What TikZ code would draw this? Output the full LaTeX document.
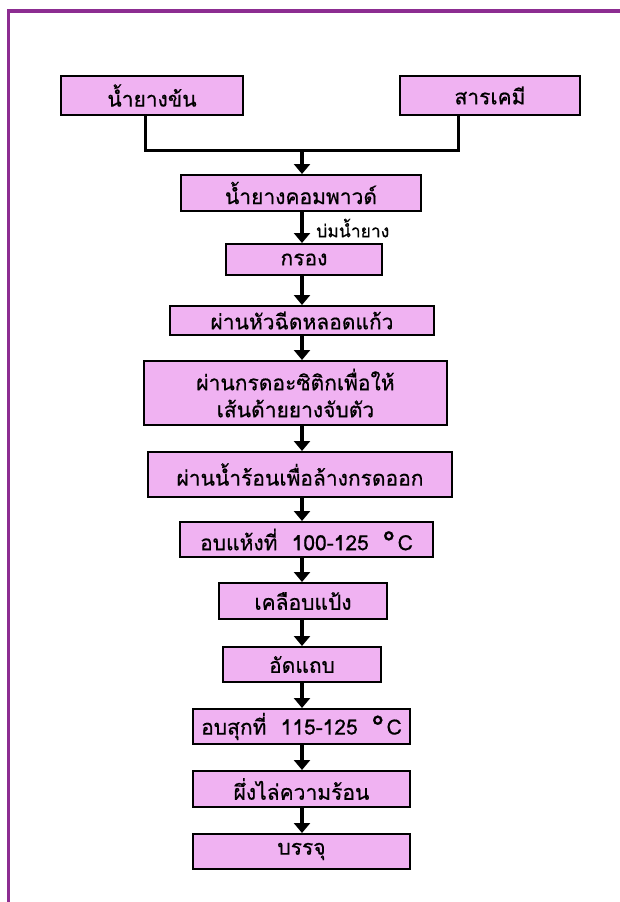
\documentclass[tikz,border=0pt]{standalone}
\usepackage{fontspec}
\newfontfamily\thaifont[Script=Thai,FakeBold=0.6]{Loma}
\usetikzlibrary{arrows.meta}
\definecolor{boxpink}{RGB}{240,178,242}
\definecolor{framepurple}{RGB}{140,45,145}
\newcommand{\degC}{\raisebox{0.5pt}{\fontsize{25}{25}\selectfont °}\hspace{3pt}C}
\tikzset{
  box/.style={draw=black, line width=2pt, fill=boxpink, inner sep=0pt, align=center,
    font=\thaifont\fontsize{21}{27}\selectfont},
  conn/.style={line width=3pt, line cap=rect},
  arr/.style={line width=4pt, -{Triangle[width=16pt,length=10pt]}},
  lbl/.style={inner sep=0pt, font=\thaifont\fontsize{17.5}{20}\selectfont}
}
\begin{document}
\begin{tikzpicture}[x=1pt,y=-1pt]
\useasboundingbox (0,0) rectangle (620,902);
\fill[white] (0,0) rectangle (620,902);
\draw[framepurple, line width=3.5pt] (8.5,902) -- (8.5,11) -- (620,11);

\node[box, minimum width=182pt, minimum height=39pt] (n1) at (152,95.5) {น้ำยางข้น};
\node[box, minimum width=180pt, minimum height=39pt] (n2) at (490,95.5) {สารเคมี};
\node[box, minimum width=240pt, minimum height=36pt] (n3) at (301,193) {น้ำยางคอมพาวด์};
\node[box, minimum width=156pt, minimum height=31pt] (n4) at (304,259.5) {กรอง};
\node[box, minimum width=264pt, minimum height=29pt] (n5) at (302,320.5) {ผ่านหัวฉีดหลอดแก้ว};
\node[box, minimum width=303pt, minimum height=64pt] (n6) at (295.5,393) {ผ่านกรดอะซิติกเพื่อให้\\เส้นด้ายยางจับตัว};
\node[box, minimum width=304pt, minimum height=45pt] (n7) at (300,474.5) {ผ่านน้ำร้อนเพื่อล้างกรดออก};
\node[box, minimum width=253pt, minimum height=35pt] (n8) at (306.5,539.5) {อบแห้งที่\ \ 100-125 \ \degC};
\node[box, minimum width=168pt, minimum height=36pt] (n9) at (303,601) {เคลือบแป้ง};
\node[box, minimum width=158pt, minimum height=35pt] (n10) at (302,664.5) {อัดแถบ};
\node[box, minimum width=217pt, minimum height=35pt] (n11) at (301.5,726.5) {อบสุกที่\ \ 115-125 \ \degC};
\node[box, minimum width=217pt, minimum height=36pt] (n12) at (301.5,789) {ผึ่งไล่ความร้อน};
\node[box, minimum width=217pt, minimum height=35pt] (n13) at (301.5,851.5) {บรรจุ};

\node[lbl, anchor=west] (lab) at (316,228) {บ่มน้ำยาง};

\coordinate (sp) at (302,0);
\coordinate (l1) at (145,0);
\coordinate (r1) at (458,0);
\coordinate (j) at (302,150);

\draw[conn] (n1.south -| l1) |- (j) -| (n2.south -| r1);
\draw[arr] (j) -- (n3.north -| sp);
\draw[arr] (n3.south -| sp) -- (n4.north -| sp);
\draw[arr] (n4.south -| sp) -- (n5.north -| sp);
\draw[arr] (n5.south -| sp) -- (n6.north -| sp);
\draw[arr] (n6.south -| sp) -- (n7.north -| sp);
\draw[arr] (n7.south -| sp) -- (n8.north -| sp);
\draw[arr] (n8.south -| sp) -- (n9.north -| sp);
\draw[arr] (n9.south -| sp) -- (n10.north -| sp);
\draw[arr] (n10.south -| sp) -- (n11.north -| sp);
\draw[arr] (n11.south -| sp) -- (n12.north -| sp);
\draw[arr] (n12.south -| sp) -- (n13.north -| sp);
\end{tikzpicture}
\end{document}
